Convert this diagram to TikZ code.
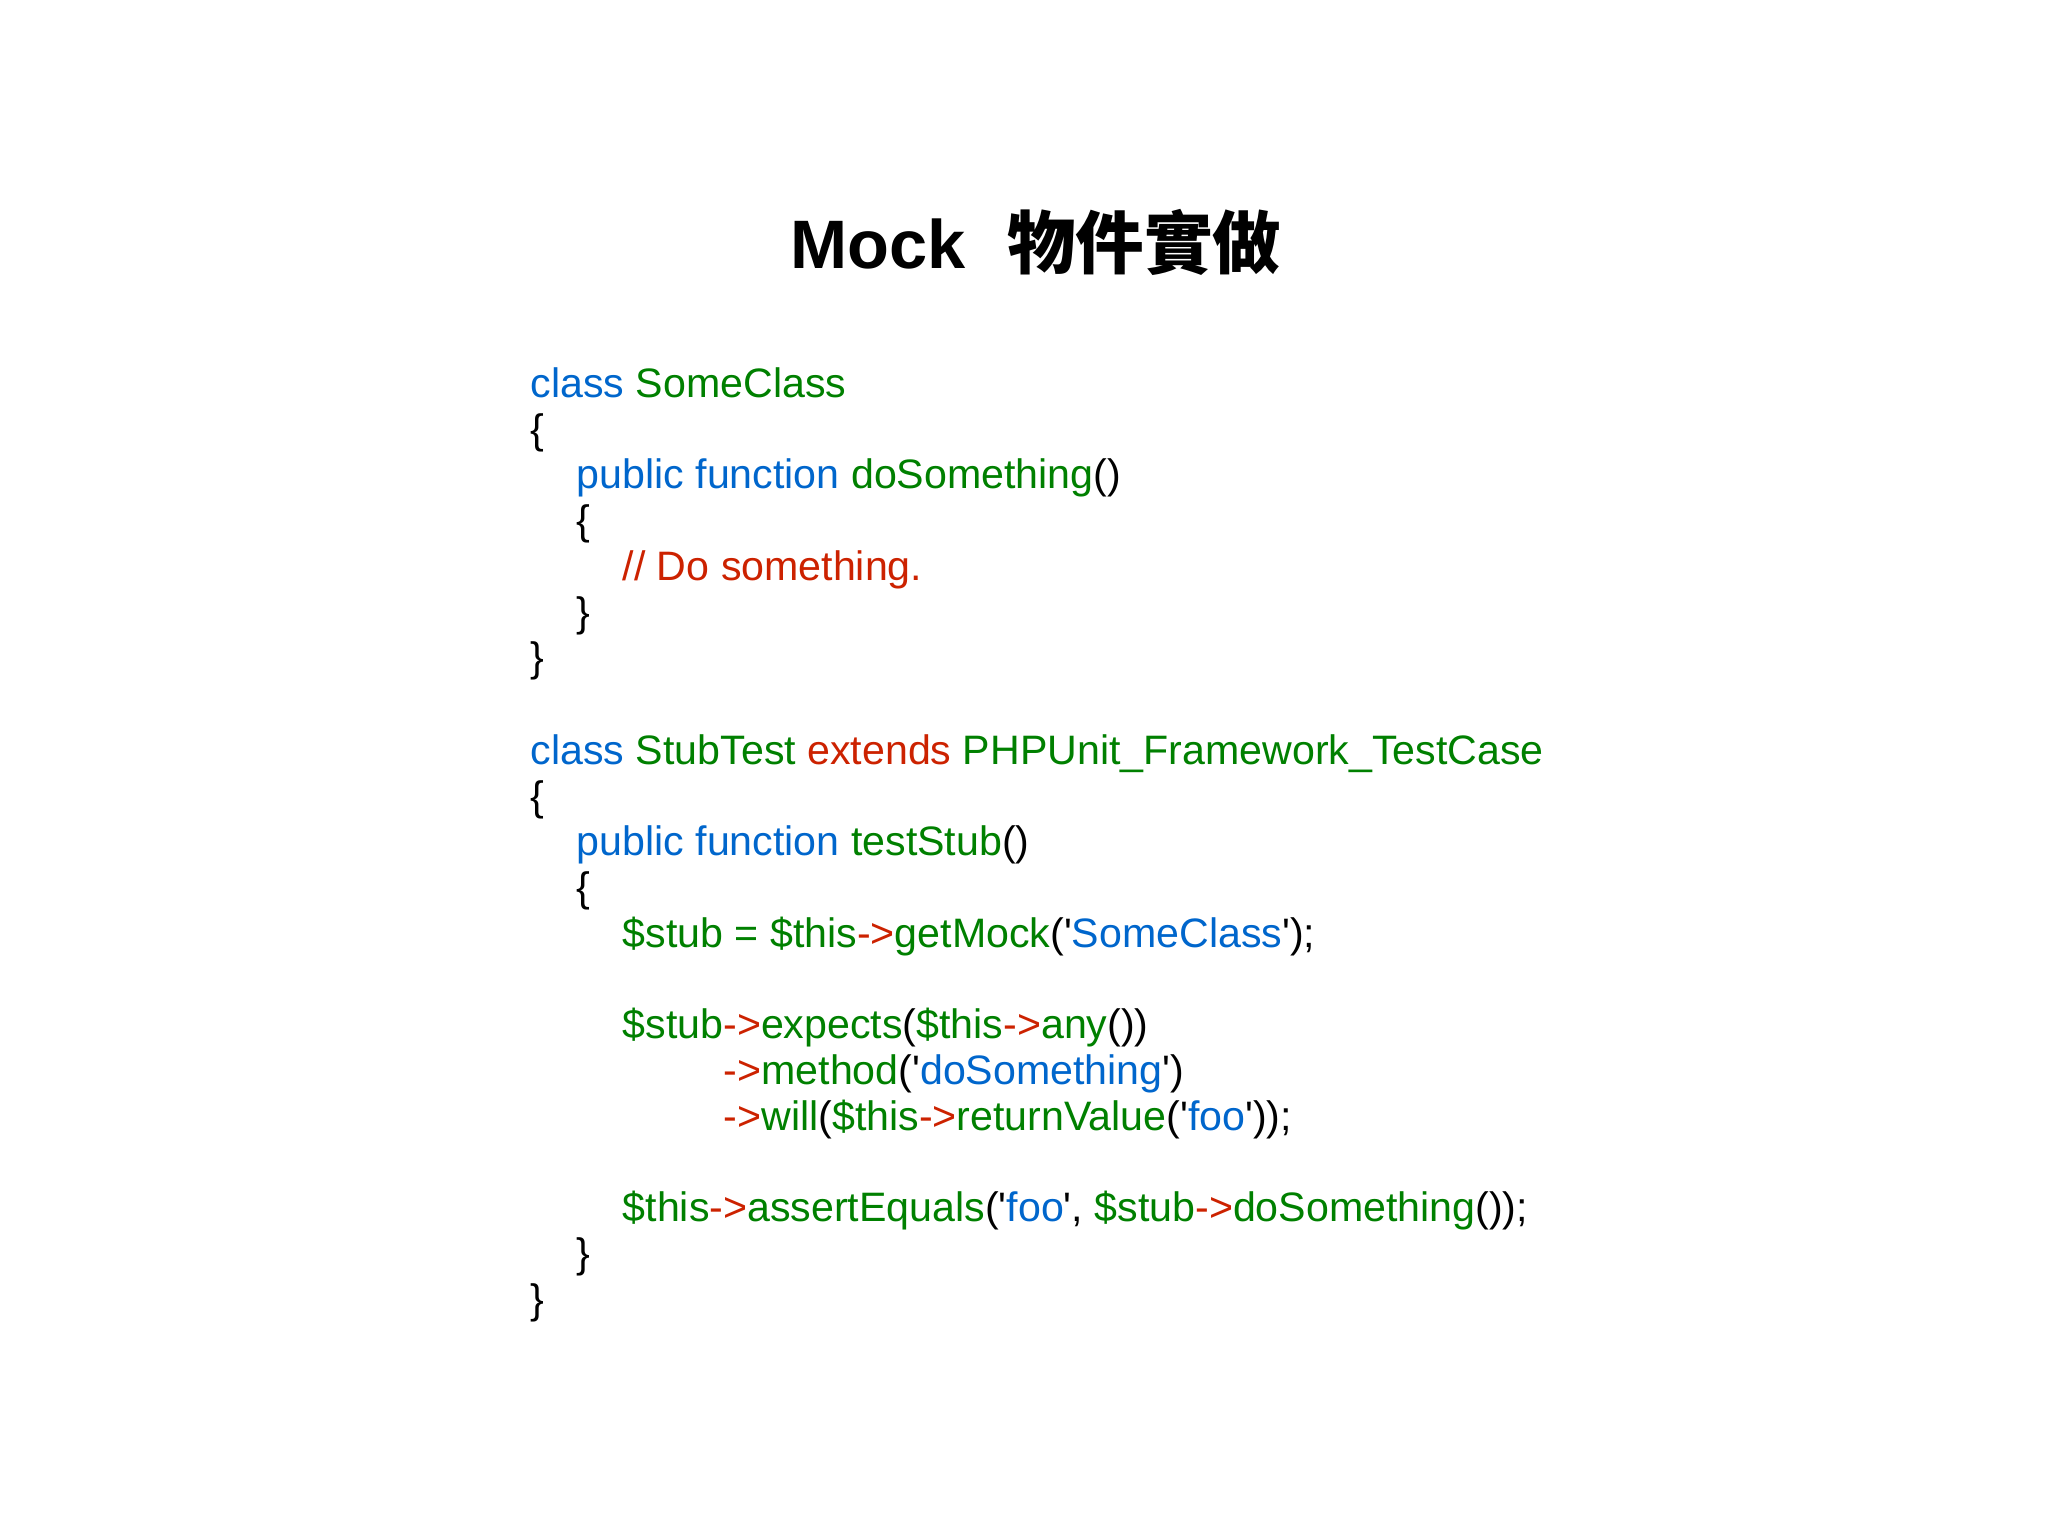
\documentclass[tikz,border=0pt]{standalone}
\usepackage{fontspec}
\newfontfamily\code{Liberation Sans}
\newfontfamily\cjk{Noto Sans CJK TC}
\definecolor{kwb}{RGB}{0,102,204}
\definecolor{kwg}{RGB}{0,128,0}
\definecolor{kwr}{RGB}{204,34,0}
\newcommand\B[1]{\textcolor{kwb}{#1}}
\newcommand\G[1]{\textcolor{kwg}{#1}}
\newcommand\R[1]{\textcolor{kwr}{#1}}
\begin{document}
\begin{tikzpicture}[x=0.01cm,y=-0.01cm]
\tikzset{ln/.style={anchor=base west,inner sep=0pt,font=\code\fontsize{11.7pt}{14pt}\selectfont}}
\useasboundingbox (0,0) rectangle (2048,1535);
\node[anchor=base,inner sep=0pt,font=\code\bfseries\fontsize{19.5pt}{24pt}\selectfont] (title) at (1036,268) {Mock\hspace{0.6em}{\cjk\bfseries 物件實做}};
\node[ln] (l1) at (530,397) {\B{class} \G{SomeClass}};
\node[ln] (l2) at (530,443) {\{};
\node[ln] (l3) at (576,488) {\B{public function} \G{doSomething}()};
\node[ln] (l4) at (576,534) {\{};
\node[ln] (l5) at (622,580) {\R{// Do something.}};
\node[ln] (l6) at (576,626) {\}};
\node[ln] (l7) at (530,671) {\}};
\node[ln] (l8) at (530,764) {\B{class} \G{StubTest} \R{extends} \G{PHPUnit\_Framework\_TestCase}};
\node[ln] (l9) at (530,810) {\{};
\node[ln] (l10) at (576,855) {\B{public function} \G{testStub}()};
\node[ln] (l11) at (576,901) {\{};
\node[ln] (l12) at (622,947) {\G{\$stub = \$this}\R{->}\G{getMock}('\B{SomeClass}');};
\node[ln] (l13) at (622,1038) {\G{\$stub}\R{->}\G{expects}(\G{\$this}\R{->}\G{any}())};
\node[ln] (l14) at (723,1084) {\R{->}\G{method}('\B{doSomething}')};
\node[ln] (l15) at (723,1130) {\R{->}\G{will}(\G{\$this}\R{->}\G{returnValue}('\B{foo}'));};
\node[ln] (l16) at (622,1221) {\G{\$this}\R{->}\G{assertEquals}('\B{foo}', \G{\$stub}\R{->}\G{doSomething}());};
\node[ln] (l17) at (576,1267) {\}};
\node[ln] (l18) at (530,1313) {\}};
\end{tikzpicture}
\end{document}
